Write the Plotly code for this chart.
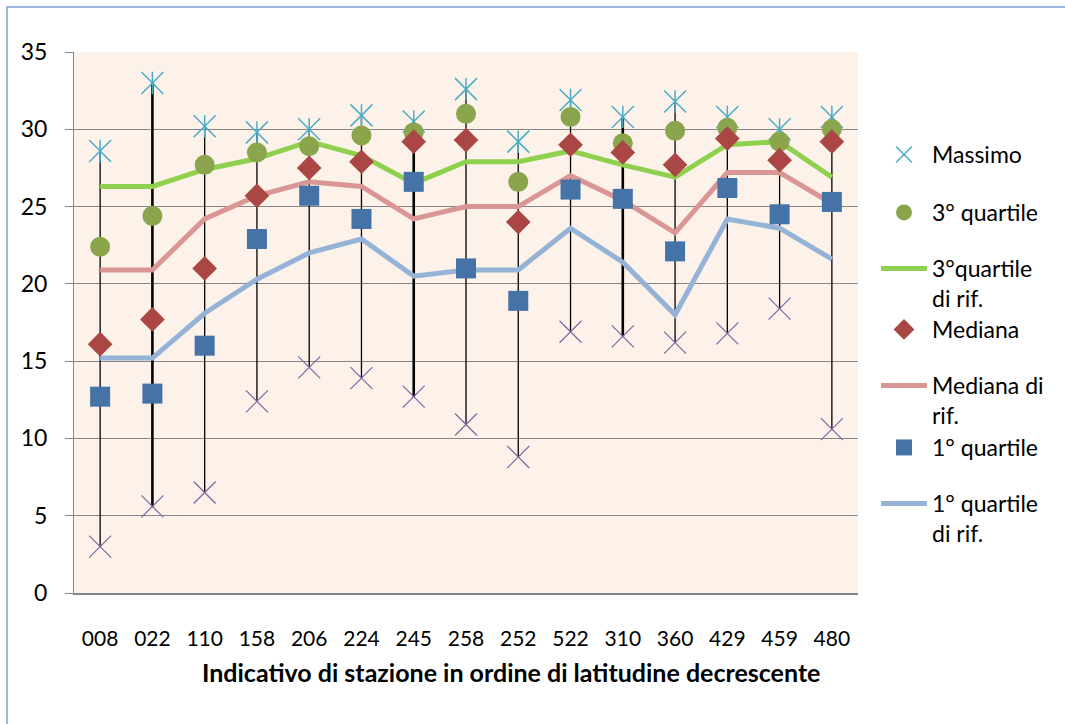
import plotly.graph_objects as go

stations = ["008", "022", "110", "158", "206", "224", "245", "258", "252", "522", "310", "360", "429", "459", "480"]
massimo = [28.6, 33.0, 30.2, 29.8, 30.0, 30.9, 30.5, 32.6, 29.2, 31.9, 30.8, 31.8, 30.8, 30.0, 30.8]
q3 = [22.4, 24.4, 27.7, 28.5, 28.9, 29.6, 29.8, 31.0, 26.6, 30.8, 29.1, 29.9, 30.1, 29.2, 30.0]
q3_rif = [26.3, 26.3, 27.4, 28.1, 29.2, 28.3, 26.5, 27.9, 27.9, 28.6, 27.7, 26.9, 29.0, 29.2, 26.9]
mediana = [16.1, 17.7, 21.0, 25.7, 27.5, 27.9, 29.2, 29.3, 24.0, 29.0, 28.5, 27.7, 29.4, 28.0, 29.2]
mediana_rif = [20.9, 20.9, 24.2, 25.7, 26.6, 26.3, 24.2, 25.0, 25.0, 27.0, 25.4, 23.3, 27.2, 27.2, 25.2]
q1 = [12.7, 12.9, 16.0, 22.9, 25.7, 24.2, 26.6, 21.0, 18.9, 26.1, 25.5, 22.1, 26.2, 24.5, 25.3]
q1_rif = [15.2, 15.2, 18.1, 20.3, 22.0, 22.9, 20.5, 20.9, 20.9, 23.6, 21.4, 18.0, 24.2, 23.6, 21.6]
minimo = [3.0, 5.6, 6.5, 12.4, 14.6, 13.9, 12.7, 10.9, 8.8, 16.9, 16.6, 16.2, 16.8, 18.4, 10.6]
thick_stations = ["022", "245", "310"]

FONT = "Lato"

fig = go.Figure()

# high-low lines
def hl(sel):
    xs, ys = [], []
    for s, lo, hi in zip(stations, minimo, massimo):
        if sel(s):
            xs += [s, s, None]
            ys += [lo, hi, None]
    return xs, ys

xs, ys = hl(lambda s: s not in thick_stations)
fig.add_trace(go.Scatter(x=xs, y=ys, mode="lines", line=dict(color="black", width=1.3),
                         showlegend=False, hoverinfo="skip"))
xs, ys = hl(lambda s: s in thick_stations)
fig.add_trace(go.Scatter(x=xs, y=ys, mode="lines", line=dict(color="black", width=2.6),
                         showlegend=False, hoverinfo="skip"))

# reference lines
fig.add_trace(go.Scatter(x=stations, y=q3_rif, mode="lines", name="3°quartile<br>di rif.",
                         line=dict(color="#8FD14F", width=5), legend="legend3"))
fig.add_trace(go.Scatter(x=stations, y=mediana_rif, mode="lines", name="Mediana di<br>rif.",
                         line=dict(color="#D99694", width=5), legend="legend5"))
fig.add_trace(go.Scatter(x=stations, y=q1_rif, mode="lines", name="1° quartile<br>di rif.",
                         line=dict(color="#95B3D7", width=5), legend="legend7"))

# markers
fig.add_trace(go.Scatter(x=stations, y=massimo, mode="markers", name="Massimo",
                         marker=dict(symbol="x-thin-open", size=22, color="#4BACC6",
                                     line=dict(width=1.5, color="#4BACC6")), legend="legend"))
fig.add_trace(go.Scatter(x=stations, y=massimo, mode="markers", showlegend=False,
                         marker=dict(symbol="line-ns-open", size=16, color="#4BACC6",
                                     line=dict(width=1.5, color="#4BACC6"))))
fig.add_trace(go.Scatter(x=stations, y=q3, mode="markers", name="3° quartile",
                         marker=dict(symbol="circle", size=20, color="#8AA54B"), legend="legend2"))
fig.add_trace(go.Scatter(x=stations, y=mediana, mode="markers", name="Mediana",
                         marker=dict(symbol="diamond", size=19, color="#AA4643"), legend="legend4"))
fig.add_trace(go.Scatter(x=stations, y=q1, mode="markers", name="1° quartile",
                         marker=dict(symbol="square", size=20, color="#4572A7"), legend="legend6"))
fig.add_trace(go.Scatter(x=stations, y=minimo, mode="markers", showlegend=False,
                         marker=dict(symbol="x-thin-open", size=22, color="#8064A2",
                                     line=dict(width=1.2, color="#8064A2"))))

L, R, T, B = 74, 858, 52, 593
def px_x(p):
    return (p - L) / (R - L)
def px_y(p):
    return (B - p) / (B - T)

legend_font = dict(family=FONT, size=23, color="black")
leg_common = dict(font=legend_font, bgcolor="rgba(0,0,0,0)", borderwidth=0,
                  xanchor="left", valign="top", itemwidth=46)
leg_pos = {"legend": 153, "legend2": 211, "legend3": 267, "legend4": 328,
           "legend5": 384, "legend6": 446, "legend7": 502}
legends = {}
for k, yc in leg_pos.items():
    legends[k] = dict(leg_common, x=px_x(876), y=px_y(yc - 20), yanchor="top")

fig.update_layout(
    width=1065, height=724,
    margin=dict(l=L, r=1065 - R, t=T, b=724 - B, autoexpand=False),
    paper_bgcolor="white",
    plot_bgcolor="#FDF2E9",
    font=dict(family=FONT, size=20, color="black"),
    xaxis=dict(type="category", categoryorder="array", categoryarray=stations,
               range=[-0.5, 14.5], showgrid=False, showline=True,
               linecolor="#868686", linewidth=2, ticks="", ticklabelstandoff=26,
               tickfont=dict(family=FONT, size=21, color="black"), zeroline=False),
    yaxis=dict(range=[0, 35], dtick=5, showgrid=True, gridcolor="#868686", gridwidth=1.3,
               showline=True, linecolor="#868686", linewidth=1, ticks="outside",
               ticklen=8, tickcolor="#868686", tickwidth=1.3, ticklabelstandoff=13,
               tickfont=dict(family=FONT, size=23, color="black"), zeroline=False),
    **legends,
)

fig.add_annotation(text="<b>Indicativo di stazione in ordine di latitudine decrescente</b>",
                   xref="paper", yref="paper", x=px_x(511), y=px_y(672),
                   xanchor="center", yanchor="middle", showarrow=False,
                   font=dict(family=FONT, size=25, color="black"))

# outer chart frame
fig.add_shape(type="rect", xref="paper", yref="paper",
              x0=px_x(7), y0=px_y(740), x1=px_x(1080), y1=px_y(7),
              line=dict(color="#9DB9E3", width=2), layer="below")

fig.write_html("out.html", config={"displayModeBar": False},
               post_script="document.body.style.margin='0';")
